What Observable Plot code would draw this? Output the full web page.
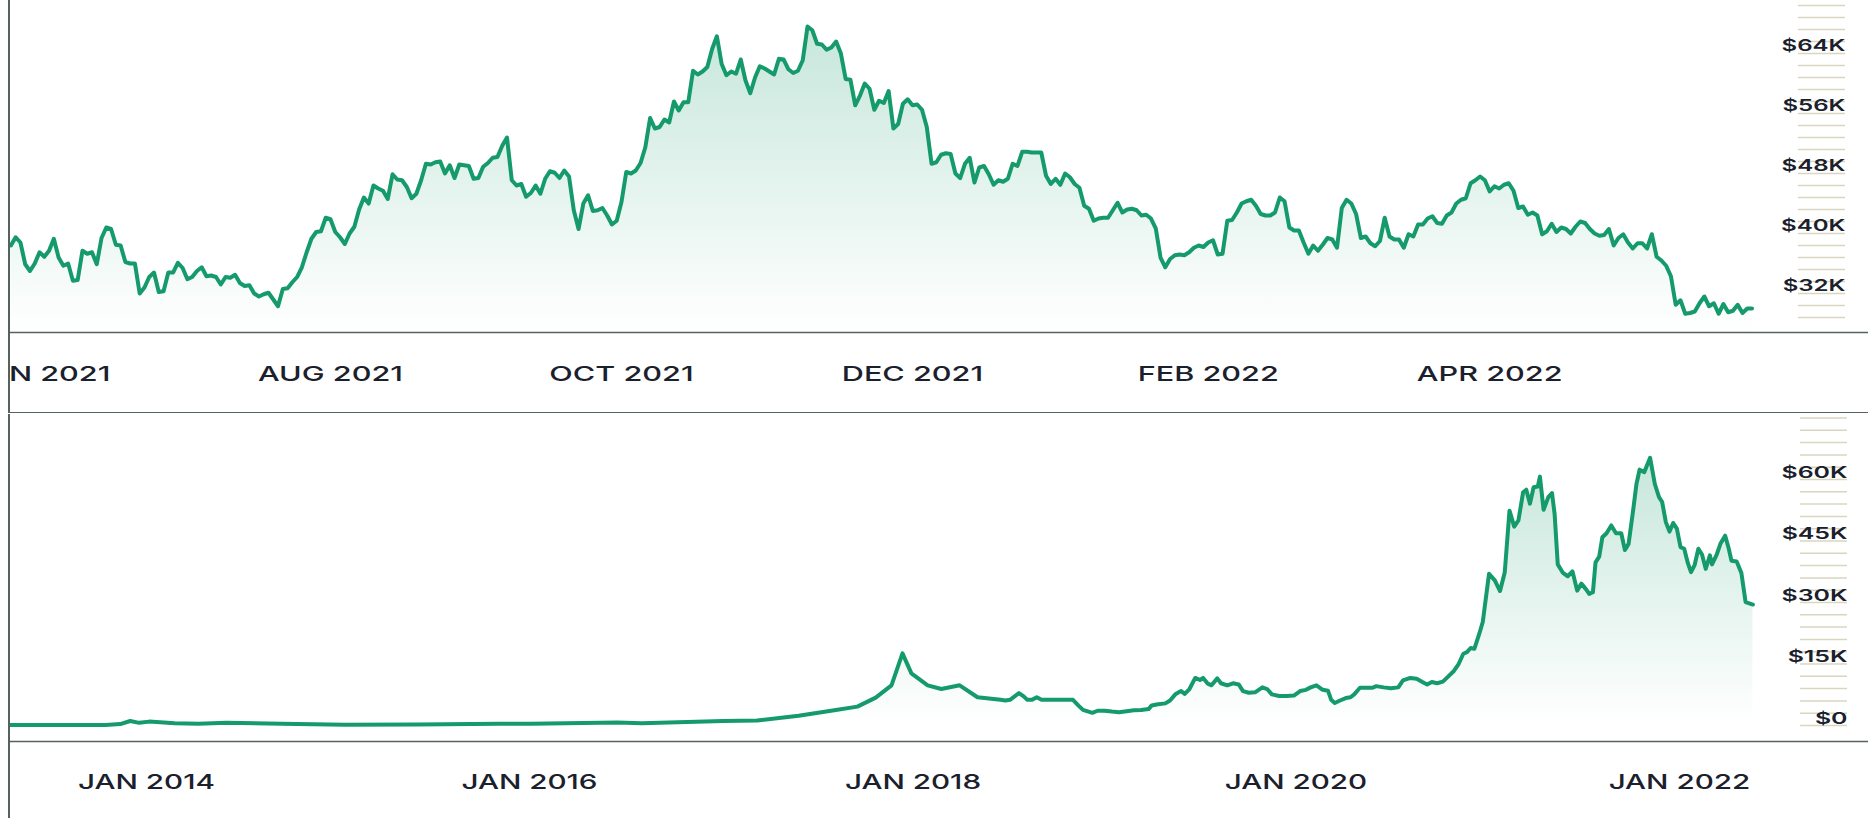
<!DOCTYPE html>
<html><head><meta charset="utf-8">
<script src="https://cdn.jsdelivr.net/npm/d3@7"></script>
<script src="https://cdn.jsdelivr.net/npm/@observablehq/plot@0.6"></script>
<style>
html,body{margin:0;padding:0;background:#fff;}
body{width:1868px;height:818px;position:relative;overflow:hidden;}
.panel{position:absolute;left:8px;width:1860px;border-left:2px solid #55625d;overflow:hidden;box-sizing:border-box;}
#top{top:0;height:413px;border-bottom:1.5px solid #55625d;}
#bottom{top:414px;height:404px;}
</style></head><body>
<div id="top" class="panel"></div>
<div id="bottom" class="panel"></div>
<script>
// ---------- Top panel: one year, daily close (thousands of USD) ----------
const topStart = "2021-05-26";
const topValuesK = [
38.4,39.5,38.8,35.9,35.0,36.0,37.5,36.9,37.7,39.3,
36.8,35.7,36.0,33.7,33.8,37.7,37.3,37.5,35.9,39.4,
40.8,40.6,38.5,38.4,36.2,36.0,36.0,32.0,32.8,34.2,
34.8,32.2,32.3,34.8,34.8,36.1,35.4,33.9,34.2,35.0,
35.5,34.3,34.4,34.2,33.2,34.2,34.1,34.5,33.4,33.0,
33.1,32.0,31.6,31.9,32.1,31.2,30.3,32.6,32.7,33.5,
34.2,35.5,37.5,39.3,40.2,40.3,42.1,41.9,40.2,39.5,
38.6,40.0,40.9,43.2,44.8,44.0,46.4,46.0,45.7,44.6,
47.9,47.2,47.1,46.2,44.7,45.3,47.1,49.3,49.2,49.5,
49.6,48.0,49.1,47.4,49.2,49.1,49.0,47.3,47.4,48.9,
49.4,50.1,50.2,51.7,52.8,47.1,46.4,46.6,44.9,45.4,
46.4,45.3,47.3,48.3,48.1,47.4,48.4,47.6,43.1,40.6,
44.0,45.1,43.0,43.1,
43.4,42.4,41.2,41.7,44.2,48.2,48.0,48.4,49.4,51.5,
55.4,54.0,54.2,55.2,54.8,57.6,56.4,57.5,57.5,61.7,
61.2,61.6,62.2,64.6,66.3,62.6,61.1,61.6,61.3,63.2,
60.4,58.7,60.8,62.3,62.0,61.6,61.2,63.3,63.2,61.9,
61.4,61.7,63.1,67.6,67.1,65.3,65.2,64.5,64.8,65.6,
64.0,60.6,60.5,57.1,58.4,60.0,59.3,56.5,57.7,57.4,
59.0,54.0,54.6,57.3,57.9,57.1,57.2,56.5,54.2,49.3,
49.5,50.5,50.7,50.6,48.0,47.4,49.3,50.1,46.8,48.8,
49.0,47.9,46.5,47.1,46.9,47.3,49.3,49.0,50.9,50.9,
50.8,50.8,50.8,47.7,46.6,47.3,46.5,48.0,47.5,46.6,
46.1,43.7,43.3,41.7,42.0,42.1,42.1,43.1,44.1,42.8,
43.2,43.3,43.1,42.4,42.5,42.0,40.7,36.8,35.5,36.6,
37.1,37.2,
37.1,37.5,38.1,38.4,38.2,38.8,39.1,37.2,37.3,41.7,
41.8,42.8,44.0,44.3,44.5,43.7,42.6,42.4,42.4,42.8,
44.8,44.3,40.8,40.4,40.4,38.8,37.3,38.4,37.7,38.5,
39.4,39.2,38.1,43.4,44.5,44.0,42.6,39.4,39.6,38.7,
38.3,39.0,42.1,39.6,39.2,39.2,38.1,39.9,39.6,41.2,
41.2,42.0,42.3,41.4,41.3,42.4,42.8,44.0,44.5,44.7,
46.7,47.1,47.6,47.1,45.6,46.3,46.0,46.5,46.7,45.7,
43.4,43.6,42.5,42.8,42.4,39.9,40.3,41.3,40.2,40.8,
40.6,40.0,40.9,41.6,41.4,40.6,40.0,39.7,39.8,40.6,
38.4,39.4,39.9,38.8,38.0,38.7,38.7,38.0,39.9,36.9,
36.4,35.7,34.3,30.5,31.1,29.3,29.4,29.6,30.7,31.6,
30.3,30.7,29.3,30.6,29.5,29.7,30.5,29.4,30.0,30.0
];
const topGridK = [28.8,30.4,32,33.6,35.2,36.8,38.4,40,41.6,43.2,44.8,46.4,48,49.6,51.2,52.8,54.4,56,57.6,59.2,60.8,62.4,64,65.6,67.2,68.8,70.4];
const topTickK = [32,40,48,56,64];
const topMonthTicks = ["2021-06-01","2021-08-01","2021-10-01","2021-12-01","2022-02-01","2022-04-01"];

// ---------- Bottom panel: all history (thousands of USD) ----------
const allDates = [
"2013-04-17","2013-08-01","2013-10-15","2013-11-12","2013-12-01","2013-12-18","2014-01-06","2014-02-24","2014-04-10","2014-06-02",
"2014-09-15","2015-01-14","2015-06-01","2015-11-04","2016-01-04","2016-06-17","2016-08-02","2017-01-04","2017-03-10","2017-05-28",
"2017-08-04","2017-09-17","2017-10-22","2017-11-21","2017-12-12","2017-12-29","2018-01-29","2018-02-24","2018-03-31","2018-05-04",
"2018-06-17","2018-06-26","2018-07-05","2018-07-22","2018-07-31","2018-08-07","2018-08-16","2018-08-25","2018-09-03","2018-09-17",
"2018-10-01","2018-10-20","2018-11-02","2018-11-12","2018-11-21","2018-12-09","2018-12-19","2019-01-01","2019-01-15","2019-01-29",
"2019-02-12","2019-02-26","2019-03-12","2019-03-26","2019-04-01","2019-04-13","2019-04-27","2019-05-06","2019-05-16","2019-05-27",
"2019-06-03","2019-06-12","2019-06-23","2019-07-02","2019-07-08","2019-07-17","2019-07-24","2019-08-04","2019-08-11","2019-08-23",
"2019-09-03","2019-09-14","2019-09-22","2019-10-03","2019-10-15","2019-10-29","2019-11-07","2019-11-16","2019-11-30","2019-12-14",
"2019-12-28","2020-01-09","2020-01-20","2020-01-29","2020-02-09","2020-02-21","2020-03-02","2020-03-08","2020-03-15","2020-03-25",
"2020-04-05","2020-04-14","2020-04-21","2020-05-02","2020-05-17","2020-05-26","2020-06-02","2020-06-16","2020-06-30","2020-07-14",
"2020-07-23","2020-08-06","2020-08-18","2020-08-29","2020-09-07","2020-09-16","2020-09-26","2020-10-07","2020-10-16","2020-10-28",
"2020-11-06","2020-11-15","2020-11-22","2020-11-29","2020-12-06","2020-12-15","2020-12-22","2020-12-27","2021-01-03","2021-01-14",
"2021-01-24","2021-02-02","2021-02-11","2021-02-20","2021-02-28","2021-03-09","2021-03-15","2021-03-22","2021-03-29","2021-04-06",
"2021-04-10","2021-04-17","2021-04-26","2021-05-03","2021-05-08","2021-05-14","2021-05-24","2021-06-02","2021-06-11","2021-06-20",
"2021-06-28","2021-07-07","2021-07-13","2021-07-20","2021-07-25","2021-08-01","2021-08-07","2021-08-15","2021-08-24","2021-09-02",
"2021-09-12","2021-09-19","2021-09-26","2021-10-05","2021-10-11","2021-10-17","2021-10-26","2021-11-06","2021-11-15","2021-11-23",
"2021-11-29","2021-12-06","2021-12-13","2021-12-20","2021-12-27","2022-01-03","2022-01-10","2022-01-17","2022-01-23","2022-01-30",
"2022-02-06","2022-02-13","2022-02-20","2022-02-28","2022-03-04","2022-03-13","2022-03-20","2022-03-29","2022-04-05","2022-04-10",
"2022-04-20","2022-04-29","2022-05-07","2022-05-14","2022-05-21"
];
const allValuesK = [
0.12,0.1,0.15,0.35,1.1,0.65,0.95,0.55,0.4,0.65,
0.45,0.18,0.23,0.4,0.43,0.75,0.55,1.1,1.2,2.4,
3.7,4.6,6.8,9.8,17.6,12.7,9.8,8.9,9.8,6.9,
6.26,6.1,6.26,7.9,7.1,6.26,6.26,6.9,6.3,6.3,
6.3,6.3,6.26,4.9,3.8,3.1,3.6,3.6,3.4,3.25,
3.5,3.7,3.8,4.0,4.9,5.2,5.4,6.1,7.6,8.4,
7.7,8.9,11.6,11.1,11.6,10.2,9.8,11.5,10.3,9.8,
10.3,10.0,8.4,8.0,8.1,9.3,8.9,7.6,7.2,7.2,
7.3,8.4,8.7,9.3,9.8,8.7,8.5,6.3,5.5,6.1,
6.7,6.9,7.6,9.2,9.2,9.2,9.6,9.3,9.1,9.3,
11.0,11.6,11.4,10.6,10.0,10.6,10.3,10.7,11.8,13.3,
15.0,17.5,17.9,18.9,18.7,22.2,25.2,30.1,37.0,35.4,
32.8,37.4,52.4,48.5,50.0,56.9,57.5,54.1,58.1,58.3,
60.7,52.6,55.7,56.7,51.6,39.3,37.2,36.4,37.6,32.9,
34.6,33.2,32.1,32.5,39.8,41.2,45.9,46.9,48.8,46.9,
46.9,42.8,44.3,52.8,58.9,62.4,61.8,65.3,58.9,55.7,
54.5,49.6,47.3,49.4,48.0,43.5,43.1,39.6,37.4,39.2,
43.1,41.7,38.2,41.5,39.3,41.7,44.3,46.3,43.1,40.2,
40.0,37.2,30.1,29.8,29.5
];
const allGridK = [0,3,6,9,12,15,18,21,24,27,30,33,36,39,42,45,48,51,54,57,60,63,66,69,72,75];
const allTickK = [0,15,30,45,60];
const allYearTicks = ["2014-01-01","2016-01-01","2018-01-01","2020-01-01","2022-01-01"];

// ---------- rendering ----------
const FONT = 'Inter, "Liberation Sans", Arial, sans-serif';
const LINE = "#159a6b";
const INK = "#1a202c";
const fmtMonth = d3.utcFormat("%b %Y");
const fmtK = d => d === 0 ? "$0" : `$${d}K`;

function panel(o) {
  const svg = Plot.plot({
    width: 1858, height: o.height,
    marginTop: 0, marginRight: 0, marginLeft: 0, marginBottom: o.marginBottom,
    style: {background: "transparent", fontFamily: FONT, overflow: "hidden"},
    x: {type: "utc", domain: o.xDomain.map(d => new Date(d)), axis: null},
    y: {domain: o.yDomain, axis: null},
    marks: [
      Plot.areaY(o.data, {x: "date", y1: o.baseline, y2: "value", fill: `url(#${o.id})`}),
      Plot.ruleY(o.grid, {stroke: "#d9d6c0", strokeWidth: 1.5, insetLeft: o.gridL, insetRight: o.gridR}),
      Plot.text(o.ticks, {y: d => d, text: fmtK, frameAnchor: "right", textAnchor: "end",
        dx: -o.gridR, dy: o.labelDy, fontSize: 16, fontWeight: 600, fill: INK}),
      Plot.lineY(o.data, {x: "date", y: "value", stroke: LINE, strokeWidth: 4, strokeLinejoin: "round", strokeLinecap: "round"}),
      Plot.text(o.xticks.map(d => new Date(d)), {x: d => d, text: d => fmtMonth(d).toUpperCase(),
        frameAnchor: "bottom", dy: o.xDy, fontSize: 20.5, fontWeight: 500, fill: INK}),
      Plot.ruleY([o.yDomain[0]], {stroke: "#55625d", strokeWidth: 1.5})
    ]
  });
  const ns = "http://www.w3.org/2000/svg";
  const defs = document.createElementNS(ns, "defs");
  defs.innerHTML = `<linearGradient id="${o.id}" x1="0" y1="0" x2="0" y2="1">
    <stop offset="0" stop-color="${LINE}" stop-opacity="0.24"/>
    <stop offset="1" stop-color="${LINE}" stop-opacity="0"/></linearGradient>`;
  svg.insertBefore(defs, svg.firstChild);
  document.getElementById(o.host).appendChild(svg);
  stretch(svg, 0, o.yRef, o.yRefW);
  stretch(svg, 1, o.xRef, o.xRefW);
  return svg;
}

function stretch(svg, idx, refText, target) {
  const g = svg.querySelectorAll('g[aria-label="text"]')[idx];
  if (!g) return;
  const texts = [...g.querySelectorAll("text")];
  const ref = texts.find(t => t.textContent === refText) || texts[0];
  const w = ref.getComputedTextLength();
  if (!w) return;
  const sx = target / w;
  for (const t of texts) {
    const tr = t.getAttribute("transform") || "";
    const px = +(t.getAttribute("x") || 0);
    t.setAttribute("transform", `${tr} translate(${px},0) scale(${sx},1) translate(${-px},0)`);
  }
}

const topData = topValuesK.map((v, i) => ({date: d3.utcDay.offset(new Date(topStart), i), value: v}));
const allData = allDates.map((d, i) => ({date: new Date(d), value: allValuesK[i]}));

panel({
  host: "top", id: "gradTop", data: topData, height: 411, marginBottom: 79,
  xDomain: ["2021-05-25T22:00:00Z", "2022-06-19T10:00:00Z"], yDomain: [26.8, 71.07],
  baseline: 26.8, grid: topGridK, ticks: topTickK, xticks: topMonthTicks,
  gridL: 1788, gridR: 23, labelDy: -8, xDy: 48,
  yRef: "$64K", yRefW: 64, xRef: "AUG 2021", xRefW: 145
});
panel({
  host: "bottom", id: "gradAll", data: allData, height: 404, marginBottom: 77,
  xDomain: ["2013-04-16T19:00:00Z", "2022-12-27T07:00:00Z"], yDomain: [-3.9, 75.85],
  baseline: 0, grid: allGridK, ticks: allTickK, xticks: allYearTicks,
  gridL: 1790, gridR: 21, labelDy: -7, xDy: 47,
  yRef: "$60K", yRefW: 66, xRef: "JAN 2014", xRefW: 137
});
</script>
</body></html>
